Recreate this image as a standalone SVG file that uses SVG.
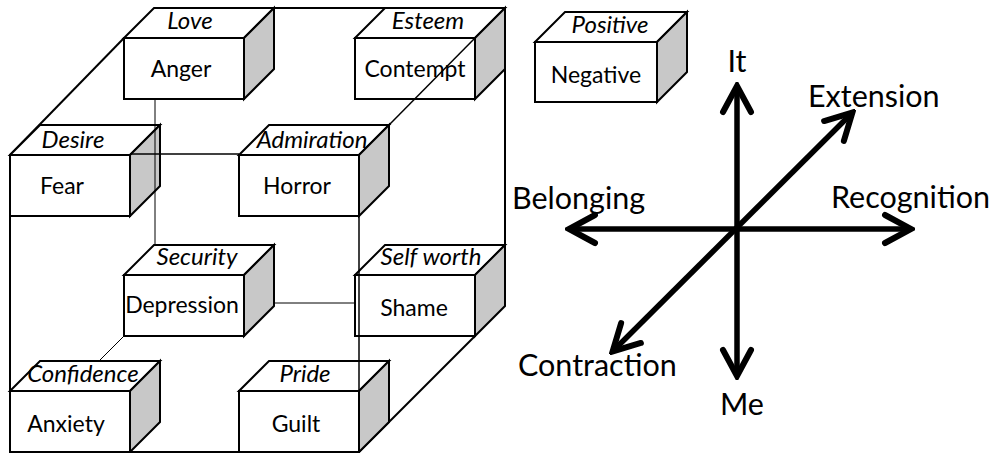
<svg xmlns="http://www.w3.org/2000/svg" width="993" height="453" viewBox="0 0 993 453">
<style>
.f{fill:#fff;stroke:#000;stroke-width:2;stroke-linejoin:miter}
.s{fill:#c8c8c8;stroke:#000;stroke-width:2}
.thick{fill:none;stroke:#000;stroke-width:2}
.thin{fill:none;stroke:#000;stroke-width:1}
.mid{fill:none;stroke:#000;stroke-width:1.5}
.ax{fill:none;stroke:#000;stroke-width:5.5}
text{font-family:Lato,"Liberation Sans",sans-serif;fill:#000}
.n{font-size:23px;text-anchor:middle}
.t{font-size:24px;font-style:italic;text-anchor:middle}
.a{font-size:30.5px}
</style>
<defs>
<marker id="ah" markerUnits="userSpaceOnUse" viewBox="-30 -20 36 40" refX="0" refY="0" markerWidth="36" markerHeight="40" orient="auto-start-reverse">
<path d="M-24,-14 L2,0 L-24,14" fill="none" stroke="#000" stroke-width="6" stroke-linecap="round" stroke-linejoin="miter"/>
</marker>
</defs>
<g id="outline">
<path class="thick" d="M155,8 H505 V245"/>
<path class="thick" d="M124,38 L10,155"/>
<path class="thick" d="M10,216 V391"/>
<path class="thick" d="M10,452 H359"/>
<path class="thick" d="M475,336 L359,452"/>
</g>
<g id="love-anger">
<rect class="f" x="124" y="38" width="120" height="61"/>
<path class="f" d="M124,38 L154,8 H274 L244,38 Z"/>
<path class="s" d="M244,38 L274,8 V69 L244,99 Z"/>
<text class="t" x="190" y="29">Love</text>
<text class="n" x="181" y="77">Anger</text>
</g>
<g id="esteem-contempt">
<rect class="f" x="355" y="38" width="120" height="61"/>
<path class="f" d="M355,38 L385,8 H505 L475,38 Z"/>
<path class="s" d="M475,38 L505,8 V69 L475,99 Z"/>
<text class="t" x="428" y="29">Esteem</text>
<text class="n" x="415" y="77">Contempt</text>
</g>
<g id="desire-fear">
<rect class="f" x="10" y="155" width="120" height="61"/>
<path class="f" d="M10,155 L40,125 H160 L130,155 Z"/>
<path class="s" d="M130,155 L160,125 V186 L130,216 Z"/>
<text class="t" x="73" y="148">Desire</text>
<text class="n" x="62" y="194">Fear</text>
</g>
<g id="admiration-horror">
<rect class="f" x="239" y="155" width="120" height="61"/>
<path class="f" d="M239,155 L269,125 H389 L359,155 Z"/>
<path class="s" d="M359,155 L389,125 V186 L359,216 Z"/>
<text class="t" x="312" y="148">Admiration</text>
<text class="n" x="297" y="194">Horror</text>
</g>
<g id="security-depression">
<rect class="f" x="124" y="275" width="120" height="61"/>
<path class="f" d="M124,275 L154,245 H274 L244,275 Z"/>
<path class="s" d="M244,275 L274,245 V306 L244,336 Z"/>
<text class="t" x="197" y="265">Security</text>
<text class="n" x="182" y="313">Depression</text>
</g>
<g id="selfworth-shame">
<rect class="f" x="355" y="275" width="120" height="61"/>
<path class="f" d="M355,275 L385,245 H505 L475,275 Z"/>
<path class="s" d="M475,275 L505,245 V306 L475,336 Z"/>
<text class="t" x="431" y="265">Self worth</text>
<text class="n" x="414" y="316">Shame</text>
</g>
<g id="confidence-anxiety">
<rect class="f" x="10" y="391" width="120" height="61"/>
<path class="f" d="M10,391 L40,361 H160 L130,391 Z"/>
<path class="s" d="M130,391 L160,361 V422 L130,452 Z"/>
<text class="t" x="83" y="382">Confidence</text>
<text class="n" x="66" y="432">Anxiety</text>
</g>
<g id="pride-guilt">
<rect class="f" x="239" y="391" width="120" height="61"/>
<path class="f" d="M239,391 L269,361 H389 L359,391 Z"/>
<path class="s" d="M359,391 L389,361 V422 L359,452 Z"/>
<text class="t" x="305" y="382">Pride</text>
<text class="n" x="296" y="432">Guilt</text>
</g>
<g id="connectors">
<path class="thin" d="M155,99 V245"/>
<path class="thin" d="M274,303 H355"/>
<path class="thin" d="M124,336 L100,360"/>
<path class="mid" d="M130,154 H239"/>
<path class="mid" d="M359,216 V391"/>
<path class="mid" d="M389,125 L475,38"/>
</g>
<g id="legend">
<rect class="f" x="535" y="42" width="122" height="60"/>
<path class="f" d="M535,42 L565,12 H687 L657,42 Z"/>
<path class="s" d="M657,42 L687,12 V72 L657,102 Z"/>
<text class="t" x="610" y="33">Positive</text>
<text class="n" x="596" y="83">Negative</text>
</g>
<g id="axes">
<line class="ax" x1="737" y1="88" x2="737" y2="374" marker-start="url(#ah)" marker-end="url(#ah)"/>
<line class="ax" x1="571" y1="229" x2="909" y2="229" marker-start="url(#ah)" marker-end="url(#ah)"/>
<line class="ax" x1="614" y1="350" x2="851" y2="114" marker-start="url(#ah)" marker-end="url(#ah)"/>
<text class="a" x="737" y="72" text-anchor="middle">It</text>
<text class="a" x="808" y="107">Extension</text>
<text class="a" x="831" y="208">Recognition</text>
<text class="a" x="512" y="209">Belonging</text>
<text class="a" x="518" y="376">Contraction</text>
<text class="a" x="742" y="415" text-anchor="middle">Me</text>
</g>
</svg>
